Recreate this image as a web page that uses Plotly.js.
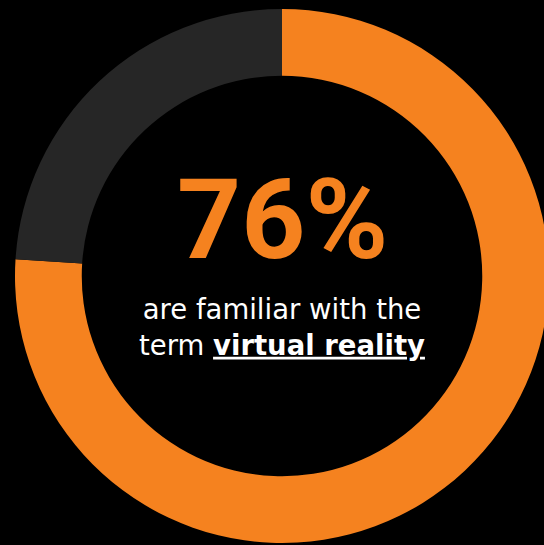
<!DOCTYPE html>
<html>
<head>
<meta charset="utf-8">
<script src="https://cdn.plot.ly/plotly-3.0.1.min.js"></script>
<style>
html, body { margin: 0; padding: 0; background: #000; overflow: hidden; width: 544px; height: 545px; }
#chart { position: absolute; left: 0; top: 0; }
</style>
</head>
<body>
<div id="chart"></div>
<script>
var labels = ["Familiar with the term", "Not familiar"];
var values = [76, 24];
var colors = ["#F5821F", "#262626"];
var headline = "76%";
var caption = "are familiar with the<br>term <b><u>virtual reality</u></b>";

var W = 564, H = 552;
var trace = {
  type: "pie",
  labels: labels,
  values: values,
  hole: 0.75,
  sort: false,
  direction: "clockwise",
  rotation: 0,
  textinfo: "none",
  hoverinfo: "none",
  marker: { colors: colors, line: { width: 0 } },
  domain: { x: [0.5 - 267 / W, 0.5 + 267 / W], y: [0.5 - 267 / H, 0.5 + 267 / H] },
  showlegend: false
};
var layout = {
  width: W, height: H,
  margin: { l: 0, r: 0, t: 0, b: 0, pad: 0 },
  paper_bgcolor: "#000000",
  plot_bgcolor: "#000000",
  showlegend: false,
  annotations: [
    { text: headline, xref: "paper", yref: "paper", x: 0.5, y: 1 - 219 / H,
      xanchor: "center", yanchor: "middle", showarrow: false,
      font: { family: "Roboto, sans-serif", size: 112, color: "#F5821F", weight: 700 } },
    { text: caption, xref: "paper", yref: "paper", x: 0.5, y: 1 - 327 / H,
      xanchor: "center", yanchor: "middle", showarrow: false, align: "center",
      font: { family: "DejaVu Sans, sans-serif", size: 27.5, color: "#FFFFFF" } }
  ]
};
Plotly.newPlot("chart", [trace], layout, { displayModeBar: false, staticPlot: true });
</script>
</body>
</html>
